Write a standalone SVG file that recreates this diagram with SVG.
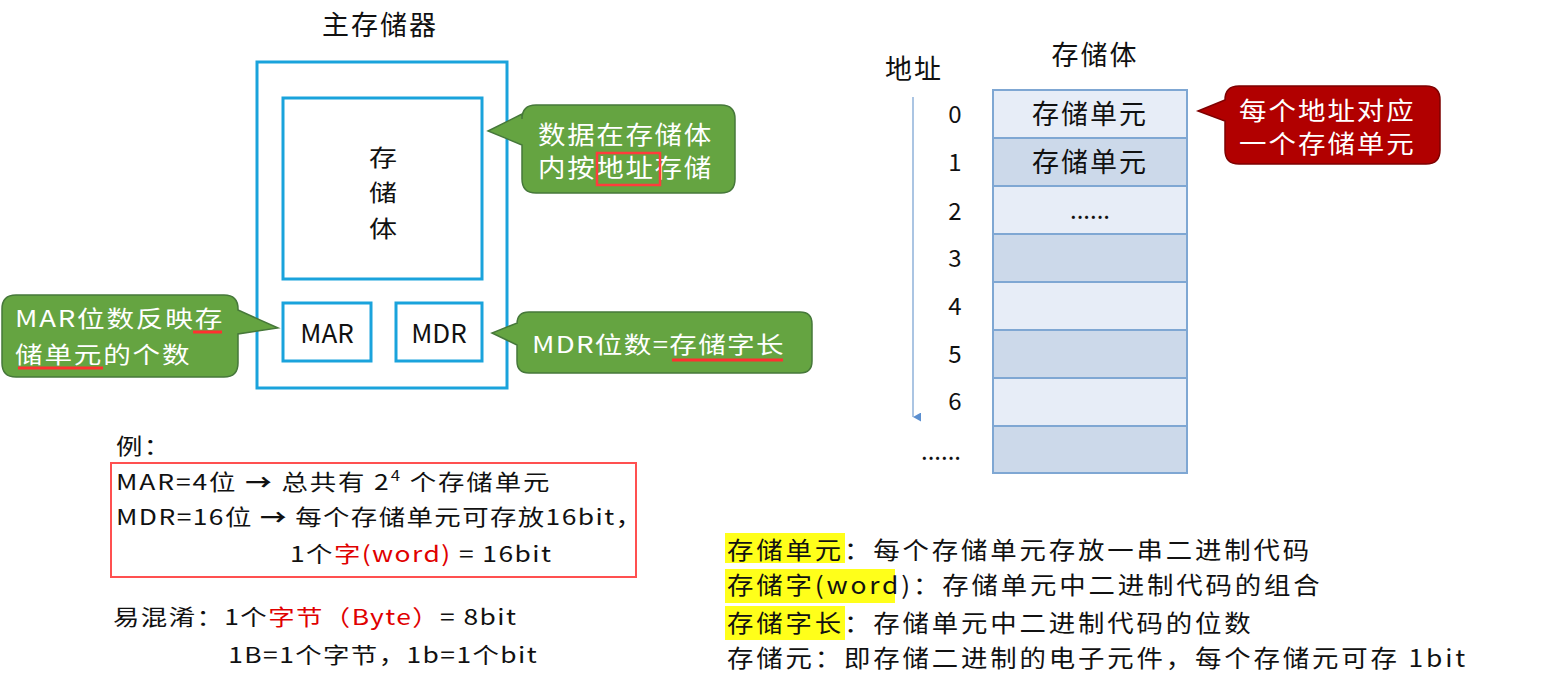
<svg xmlns="http://www.w3.org/2000/svg" width="1546" height="690" viewBox="0 0 1546 690">
<style>
text{font-family:"Noto Sans CJK SC","Noto Sans",sans-serif;fill:#111;}
.t27{font-size:27px;letter-spacing:2px;}
.w{fill:#fff;}
.mid{text-anchor:middle;}
.cyan{fill:#fff;stroke:#1aa3dc;stroke-width:3;}
.green{fill:#65a441;stroke:#46783a;stroke-width:1.5;}
.redc{fill:#b10000;stroke:#7e0000;stroke-width:1.5;}
.ul{stroke:#ff3030;stroke-width:3;}
.cellA{fill:#e7edf7;stroke:#7fa7d3;stroke-width:2;}
.cellB{fill:#ccd9ea;stroke:#7fa7d3;stroke-width:2;}
.hl{fill:#ffff1a;}
.red{fill:#e00000;}
.ex{font-size:22px;letter-spacing:1.2px;}
.def{font-size:24px;letter-spacing:2.6px;}
.num{font-size:24px;text-anchor:middle;}
</style>
<defs>
<marker id="arr" viewBox="0 0 10 9" refX="5" refY="9" markerWidth="9" markerHeight="8" markerUnits="userSpaceOnUse" orient="auto">
<path d="M0,0 L10,0 L5,9 z" fill="#5b8fd0"/>
</marker>
</defs>

<g id="main-memory">
<text class="t27 mid" x="380" y="35">主存储器</text>
<rect class="cyan" x="257" y="62" width="250" height="326"/>
</g>

<g id="storage-body">
<rect class="cyan" x="283" y="98" width="199" height="181"/>
<text class="mid" transform="translate(383 0) scale(1.22 1)" style="font-size:23px"><tspan x="0" y="166">存</tspan><tspan x="0" y="201">储</tspan><tspan x="0" y="237">体</tspan></text>
</g>

<g id="mar">
<rect class="cyan" x="283" y="303" width="88" height="58"/>
<text class="mid" x="327" y="343" style="font-size:26px">MAR</text>
</g>

<g id="mdr">
<rect class="cyan" x="396" y="303" width="86" height="58"/>
<text class="mid" x="439" y="343" style="font-size:26px">MDR</text>
</g>

<g id="callout-address">
<path class="green" d="M536,105 H721 Q735,105 735,119 V179 Q735,193 721,193 H536 Q522,193 522,179 V145 L488,131 L522,114 V119 Q522,105 536,105 Z"/>
<text class="w" transform="translate(538 0) scale(1.1 1)" style="font-size:25px;letter-spacing:1.5px"><tspan x="0" y="144">数据在存储体</tspan><tspan x="0" y="177">内按地址存储</tspan></text>
<rect x="597" y="153" width="63" height="32" fill="none" stroke="#ff3c3c" stroke-width="2.5"/>
</g>

<g id="callout-mar">
<path class="green" d="M16,295 H224 Q238,295 238,309 V310 L278,328 L238,334 V363 Q238,377 224,377 H16 Q2,377 2,363 V309 Q2,295 16,295 Z"/>
<text class="w" transform="translate(15 0) scale(1.2 1)" style="font-size:23px;letter-spacing:1.5px"><tspan x="0" y="327">MAR位数反映存</tspan><tspan x="0" y="363">储单元的个数</tspan></text>
<line class="ul" x1="193" y1="332" x2="222" y2="332"/>
<line class="ul" x1="18" y1="368" x2="103" y2="368"/>
</g>

<g id="callout-mdr">
<path class="green" d="M529,312 H800 Q812,312 812,324 V361 Q812,373 800,373 H529 Q517,373 517,361 V345 L492,333 L517,323 V324 Q517,312 529,312 Z"/>
<text class="w" transform="translate(532 0) scale(1.2 1)" x="0" y="353" style="font-size:23px;letter-spacing:1.1px">MDR位数=存储字长</text>
<line class="ul" x1="672" y1="360" x2="783" y2="360"/>
</g>

<g id="address-labels">
<text class="t27 mid" x="1095" y="65">存储体</text>
<text class="t27 mid" x="914" y="79">地址</text>
<text class="num" x="955" y="123">0</text>
<text class="num" x="955" y="171">1</text>
<text class="num" x="955" y="220">2</text>
<text class="num" x="955" y="267">3</text>
<text class="num" x="955" y="315">4</text>
<text class="num" x="955" y="363">5</text>
<text class="num" x="955" y="410">6</text>
<text class="num" x="941" y="460">......</text>
</g>

<g id="storage-table">
<rect class="cellA" x="993" y="90" width="194" height="48"/>
<rect class="cellB" x="993" y="138" width="194" height="48"/>
<rect class="cellA" x="993" y="186" width="194" height="48"/>
<rect class="cellB" x="993" y="234" width="194" height="48"/>
<rect class="cellA" x="993" y="282" width="194" height="48"/>
<rect class="cellB" x="993" y="330" width="194" height="48"/>
<rect class="cellA" x="993" y="378" width="194" height="48"/>
<rect class="cellB" x="993" y="426" width="194" height="47"/>
<text class="t27 mid" x="1090" y="124">存储单元</text>
<text class="t27 mid" x="1090" y="172">存储单元</text>
<text class="num" x="1090" y="219">......</text>
</g>

<g id="callout-cell">
<path class="redc" d="M1239,86 H1426 Q1440,86 1440,100 V150 Q1440,164 1426,164 H1239 Q1225,164 1225,150 V121 L1198,111 L1225,100 Q1225,86 1239,86 Z"/>
<text class="w" transform="translate(1239 0) scale(1.1 1)" style="font-size:25px;letter-spacing:1.8px"><tspan x="0" y="120">每个地址对应</tspan><tspan x="0" y="153">一个存储单元</tspan></text>
</g>

<g id="connectors">
<line x1="913" y1="97" x2="913" y2="417" stroke="#8fb2da" stroke-width="1.5" marker-end="url(#arr)"/>
</g>

<g id="example">
<rect x="111" y="463" width="525" height="114" fill="none" stroke="#ff5050" stroke-width="2"/>
<text class="ex" transform="translate(116 0) scale(1.2 1)"><tspan x="0" y="454">例：</tspan><tspan x="0" y="490" style="letter-spacing:1.6px">MAR=4位 <tspan font-weight="bold">→</tspan> 总共有 2<tspan font-size="14" dy="-9">4</tspan><tspan dy="9"> 个存储单元</tspan></tspan><tspan x="0" y="525">MDR=16位 <tspan font-weight="bold">→</tspan> 每个存储单元可存放16bit，</tspan><tspan x="145" y="562">1个<tspan class="red">字(word)</tspan> = 16bit</tspan></text>
<text class="ex" transform="translate(113 0) scale(1.2 1)"><tspan x="0" y="625">易混淆：1个<tspan class="red">字节（Byte）</tspan>= 8bit</tspan><tspan x="96" y="663">1B=1个字节，1b=1个bit</tspan></text>
</g>

<g id="definitions">
<rect class="hl" x="725" y="533" width="120" height="30"/>
<rect class="hl" x="725" y="569" width="170" height="34"/>
<rect class="hl" x="725" y="606" width="120" height="34"/>
<text class="def" transform="translate(727 0) scale(1.1 1)"><tspan x="0" y="559">存储单元：每个存储单元存放一串二进制代码</tspan><tspan x="0" y="594">存储字(word)：存储单元中二进制代码的组合</tspan><tspan x="0" y="632">存储字长：存储单元中二进制代码的位数</tspan><tspan x="0" y="667">存储元：即存储二进制的电子元件，每个存储元可存 1bit</tspan></text>
</g>
</svg>
